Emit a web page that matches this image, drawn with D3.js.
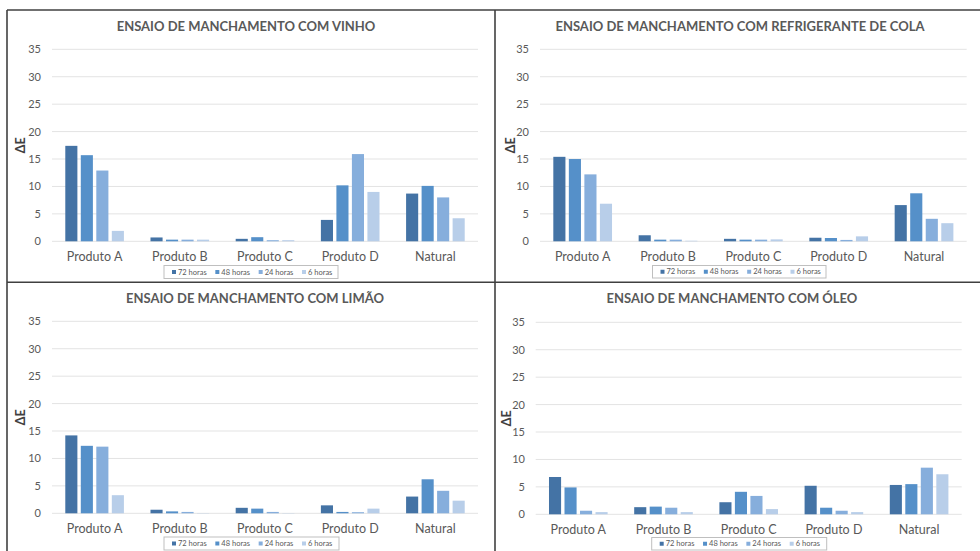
<!DOCTYPE html>
<html>
<head>
<meta charset="utf-8">
<script src="https://cdn.jsdelivr.net/npm/d3@7"></script>
<style>
  html, body { margin: 0; padding: 0; background: #fff; }
  svg { display: block; font-family: Lato, "Open Sans", sans-serif; }
</style>
</head>
<body>
<svg id="chart" width="980" height="551"></svg>
<script>
// Categories, series and tick labels shared by the four staining tests
const categories = ["Produto A", "Produto B", "Produto C", "Produto D", "Natural"];
const seriesNames = ["72 horas", "48 horas", "24 horas", "6 horas"];
const yTicks = [0, 5, 10, 15, 20, 25, 30, 35];
const seriesColors = ["#4473A5", "#5590C9", "#86AEDC", "#B8CEE9"];

// ΔE per category, one array per series (72h, 48h, 24h, 6h)
const vinho72 = [17.4, 0.7, 0.45, 3.9, 8.7];
const vinho48 = [15.7, 0.3, 0.75, 10.2, 10.1];
const vinho24 = [12.9, 0.3, 0.2, 15.9, 8.0];
const vinho6  = [1.9, 0.3, 0.2, 9.0, 4.2];

const cola72 = [15.4, 1.1, 0.45, 0.65, 6.6];
const cola48 = [15.0, 0.3, 0.3, 0.6, 8.75];
const cola24 = [12.2, 0.3, 0.3, 0.25, 4.1];
const cola6  = [6.85, 0.1, 0.35, 0.9, 3.3];

const limao72 = [14.2, 0.65, 1.0, 1.45, 3.05];
const limao48 = [12.3, 0.35, 0.85, 0.25, 6.2];
const limao24 = [12.15, 0.25, 0.25, 0.2, 4.1];
const limao6  = [3.3, 0.05, 0.05, 0.85, 2.3];

const oleo72 = [6.8, 1.3, 2.2, 5.2, 5.35];
const oleo48 = [4.9, 1.4, 4.1, 1.2, 5.5];
const oleo24 = [0.65, 1.2, 3.35, 0.65, 8.5];
const oleo6  = [0.4, 0.4, 0.95, 0.4, 7.3];

const titles = [
  "ENSAIO DE MANCHAMENTO COM VINHO",
  "ENSAIO DE MANCHAMENTO COM REFRIGERANTE DE COLA",
  "ENSAIO DE MANCHAMENTO COM LIMÃO",
  "ENSAIO DE MANCHAMENTO COM ÓLEO"
];

// Layout of each panel: plot area, tick label anchor, title and legend box
const panels = [
  { title: titles[0], data: [vinho72, vinho48, vinho24, vinho6],
    x0: 52, x1: 478, y0: 49.3, y1: 241.3, tickX: 41, axisX: 20,
    titleX: 246, titleY: 31, legend: [164, 265.5, 174, 13] },
  { title: titles[1], data: [cola72, cola48, cola24, cola6],
    x0: 540, x1: 966.7, y0: 49.3, y1: 241.3, tickX: 529, axisX: 510,
    titleX: 740, titleY: 31, legend: [652.5, 265.5, 173.5, 12.5] },
  { title: titles[2], data: [limao72, limao48, limao24, limao6],
    x0: 52, x1: 478, y0: 321.3, y1: 513.3, tickX: 41, axisX: 20,
    titleX: 255, titleY: 303, legend: [164, 537, 175, 13] },
  { title: titles[3], data: [oleo72, oleo48, oleo24, oleo6],
    x0: 535.7, x1: 961.7, y0: 322.3, y1: 514.3, tickX: 525, axisX: 506.7,
    titleX: 732, titleY: 303, legend: [651.7, 537.5, 175, 12.5] }
];

const svg = d3.select("#chart");
const textColor = "#595959";

panels.forEach(p => {
  const g = svg.append("g");

  const x = d3.scaleBand().domain(categories).range([p.x0, p.x1])
    .paddingInner(0.312).paddingOuter(0.156);
  const xs = d3.scaleBand().domain(seriesNames).range([0, x.bandwidth()])
    .paddingInner(0.22).paddingOuter(0);
  const y = d3.scaleLinear().domain([0, 35]).range([p.y1, p.y0]);

  // horizontal gridlines
  g.append("g").selectAll("line").data(yTicks).join("line")
    .attr("x1", p.x0).attr("x2", p.x1)
    .attr("y1", d => y(d)).attr("y2", d => y(d))
    .attr("stroke", "#e3e3e3").attr("stroke-width", 1);

  // y axis tick labels
  const yAxis = d3.axisLeft(y).tickValues(yTicks).tickSize(0).tickPadding(0);
  const ya = g.append("g").attr("transform", `translate(${p.tickX},0)`).call(yAxis);
  ya.select(".domain").remove();
  ya.selectAll("text").attr("fill", textColor)
    .style("font-size", "11px").style("font-family", "Lato, 'Open Sans', sans-serif");

  // category labels
  const xAxis = d3.axisBottom(x).tickSize(0).tickPadding(0);
  const xa = g.append("g").attr("transform", `translate(0,${p.y1 + 11})`).call(xAxis);
  xa.select(".domain").remove();
  xa.selectAll("text").attr("fill", textColor)
    .style("font-size", "12.5px").style("font-family", "Lato, 'Open Sans', sans-serif");

  // bars
  seriesNames.forEach((s, si) => {
    g.append("g").selectAll("rect").data(p.data[si]).join("rect")
      .attr("x", (d, i) => x(categories[i]) + xs(s))
      .attr("width", xs.bandwidth())
      .attr("y", d => y(d))
      .attr("height", d => y(0) - y(d))
      .attr("fill", seriesColors[si]);
  });

  // title
  g.append("text").attr("x", p.titleX).attr("y", p.titleY)
    .attr("text-anchor", "middle").attr("fill", textColor)
    .style("font-size", "13px").style("font-weight", "bold")
    .text(p.title);

  // axis title
  g.append("text")
    .attr("transform", `translate(${p.axisX + 4.5},${(p.y0 + p.y1) / 2}) rotate(-90)`)
    .attr("text-anchor", "middle").attr("fill", "#404040")
    .style("font-size", "12.5px").style("font-weight", "bold")
    .text("ΔE");

  // legend
  const [lx, ly, lw, lh] = p.legend;
  const lg = g.append("g");
  lg.append("rect").attr("x", lx).attr("y", ly).attr("width", lw).attr("height", lh)
    .attr("fill", "#fff").attr("stroke", "#bfbfbf").attr("stroke-width", 1);
  const itemX = d3.scalePoint().domain(seriesNames).range([lx + 8, lx + 8 + 130]);
  seriesNames.forEach((s, si) => {
    lg.append("rect").attr("x", itemX(s)).attr("y", ly + lh / 2 - 2)
      .attr("width", 4).attr("height", 4).attr("fill", seriesColors[si]);
    lg.append("text").attr("x", itemX(s) + 6).attr("y", ly + lh / 2 + 2.6)
      .attr("fill", textColor).style("font-size", "7.5px").text(s);
  });
});

// panel frame lines
const frame = svg.append("g").attr("stroke", "#404040").attr("stroke-width", 1.6).attr("fill", "none");
frame.append("line").attr("x1", 7).attr("x2", 980).attr("y1", 10).attr("y2", 10);
frame.append("line").attr("x1", 7).attr("x2", 7).attr("y1", 10).attr("y2", 551);
frame.append("line").attr("x1", 495).attr("x2", 495).attr("y1", 10).attr("y2", 551);
frame.append("line").attr("x1", 7).attr("x2", 980).attr("y1", 282.3).attr("y2", 282.3);
</script>
</body>
</html>
